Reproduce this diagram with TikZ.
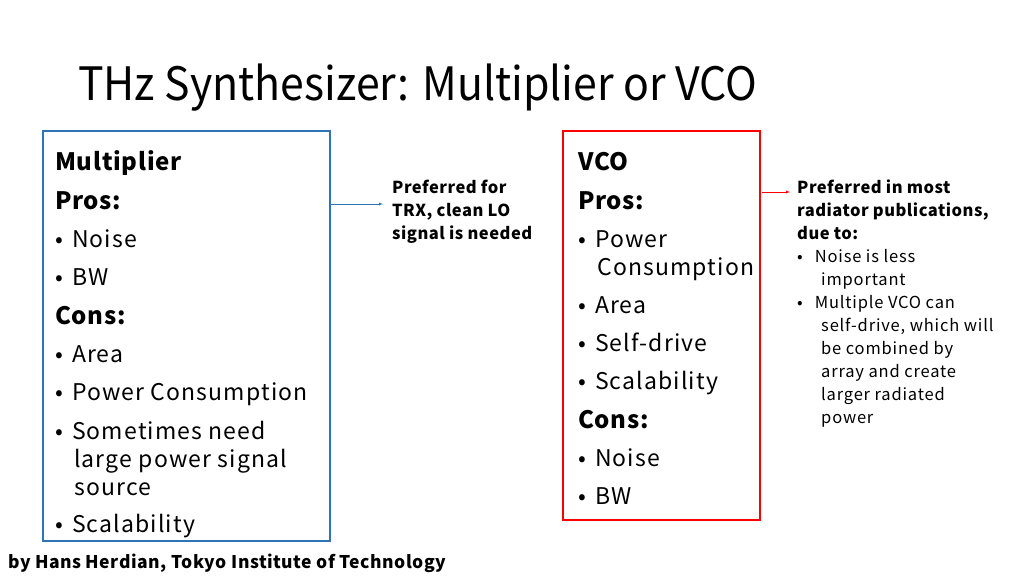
\documentclass[tikz,border=0pt]{standalone}
\usepackage{fontspec}
\setmainfont{Noto Sans CJK JP}[LetterSpace=3]
\newcommand{\bul}{•\hspace{9pt}}
\begin{document}
\begin{tikzpicture}[x=1pt,y=-1pt,
 big/.style={anchor=base west,inner sep=0pt,font=\fontsize{23}{23}\selectfont\addfontfeatures{LetterSpace=5}},
 hd/.style={anchor=base west,inner sep=0pt,font=\fontsize{24}{24}\selectfont\bfseries},
 sm/.style={anchor=base west,inner sep=0pt,font=\fontsize{16.5}{16.5}\selectfont\bfseries},
 sn/.style={anchor=base west,inner sep=0pt,font=\fontsize{16.5}{16.5}\selectfont\addfontfeatures{LetterSpace=5}}]
\useasboundingbox (0,0) rectangle (1024,576);
\node[anchor=base west,inner sep=0pt,font=\fontsize{46}{46}\selectfont\addfontfeatures{LetterSpace=0}] (title) at (78,100) {\scalebox{0.93}[1]{THz Synthesizer: Multiplier or VCO}};
\draw[color={rgb,255:red,46;green,117;blue,182},line width=1.2pt] (43,131) rectangle (330,541);
\coordinate (lb) at (330,204);
\draw[red,line width=1.2pt] (563,131) rectangle (760,520);
\node[hd] (m) at (55,170) {Multiplier};
\node[hd] (p1) at (55,209) {Pros:};
\node[big] (a1) at (55,247) {\bul Noise};
\node[big] (a2) at (55,285) {\bul BW};
\node[hd] (c1) at (55,324) {Cons:};
\node[big] (a3) at (55,362) {\bul Area};
\node[big] (a4) at (55,400) {\bul Power Consumption};
\node[big] (a5) at (55,439) {\bul Sometimes need};
\node[big] (a6) at (74,467) {large power signal};
\node[big] (a7) at (74,495) {source};
\node[big] (a8) at (55,532) {\bul Scalability};
\node[hd] (v) at (578,170) {VCO};
\node[hd] (p2) at (578,209) {Pros:};
\node[big] (b1) at (578,247) {\bul Power};
\node[big] (b2) at (597,275) {Consumption};
\node[big] (b3) at (578,313) {\bul Area};
\node[big] (b4) at (578,351) {\bul Self-drive};
\node[big] (b5) at (578,389) {\bul Scalability};
\node[hd] (c2) at (578,428) {Cons:};
\node[big] (b6) at (578,466) {\bul Noise};
\node[big] (b7) at (578,504) {\bul BW};
\node[sm] (t1) at (392,193) {Preferred for};
\node[sm] (t2) at (392,216) {TRX, clean LO};
\node[sm] (t3) at (392,239) {signal is needed};
\draw[-latex,color={rgb,255:red,46;green,117;blue,182}] (lb) -- (383,204);
\coordinate (rb) at (762,192);
\draw[-latex,red] (rb) -- (790,192);
\node[sm] (r1) at (797,193) {Preferred in most};
\node[sm] (r2) at (797,216) {radiator publications,};
\node[sm] (r3) at (797,239) {due to:};
\node[sn] (r4) at (797,262) {•\hspace{12pt}Noise is less};
\node[sn] (r5) at (821,285) {important};
\node[sn] (r6) at (797,308) {•\hspace{12pt}Multiple VCO can};
\node[sn] (r7) at (821,331) {self-drive, which will};
\node[sn] (r8) at (821,354) {be combined by};
\node[sn] (r9) at (821,377) {array and create};
\node[sn] (r10) at (821,400) {larger radiated};
\node[sn] (r11) at (821,423) {power};
\node[anchor=base west,inner sep=0pt,font=\fontsize{17.5}{17.5}\selectfont\bfseries] (ft) at (8,568) {by Hans Herdian, Tokyo Institute of Technology};
\end{tikzpicture}
\end{document}
